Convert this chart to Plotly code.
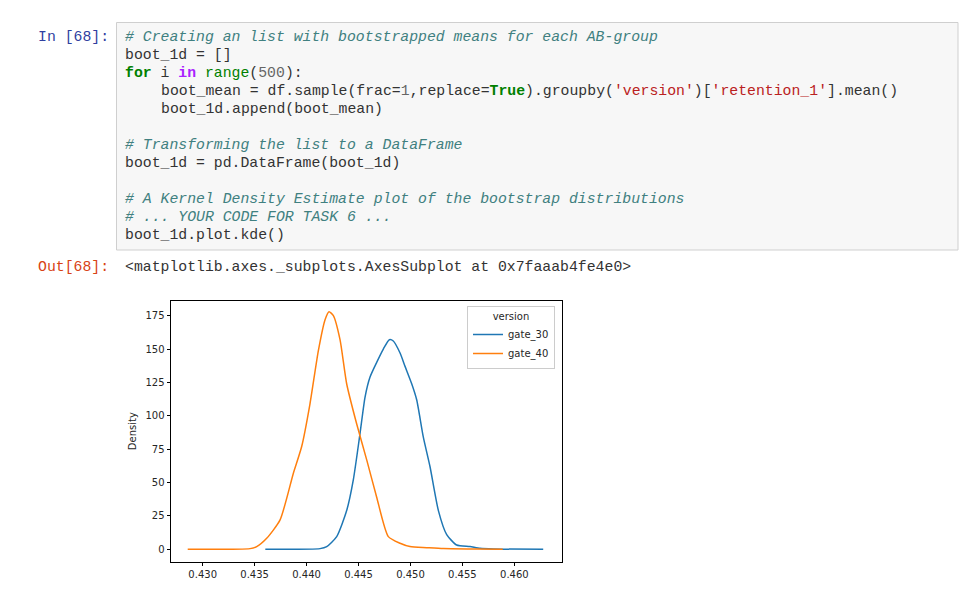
import plotly.graph_objects as go

# bootstrap KDE curves
gate_30_x = [0.43603, 0.4413, 0.44194, 0.4429, 0.44386, 0.4445, 0.44515, 0.44563, 0.44611, 0.44675,
             0.44739, 0.44797, 0.44835, 0.449, 0.44948, 0.45012, 0.4506, 0.45124, 0.45188, 0.45269,
             0.45349, 0.45445, 0.45574, 0.4567, 0.45798, 0.46278]
gate_30_y = [0, 0.5, 2, 9.5, 29, 52, 87, 114, 129, 140,
             150, 157, 156, 147, 137, 124, 112, 84, 62, 29,
             11, 3.2, 2, 0.7, 0.25, 0]

gate_40_x = [0.42856, 0.43456, 0.4352, 0.43616, 0.43745, 0.43873, 0.43953, 0.44033, 0.44114, 0.44178,
             0.44216, 0.44258, 0.44322, 0.44386, 0.44482, 0.44579, 0.44675, 0.44787, 0.449, 0.44996,
             0.45156, 0.45317, 0.4564, 0.45888]
gate_40_y = [0, 0.5, 2, 8.2, 22, 57, 77, 109, 149, 172,
             178, 175, 157, 124, 94, 67, 39, 9.5, 4.5, 2,
             1.2, 0.5, 0.25, 0]

series_names = ['gate_30', 'gate_40']
x_ticks = [0.430, 0.435, 0.440, 0.445, 0.450, 0.455, 0.460]
y_ticks = [0, 25, 50, 75, 100, 125, 150, 175]

# page body has an 8px margin, so the figure is placed at (8, 8)
OFF = 8
W, H = 980 - 2 * OFF, 601 - 2 * OFF

def px(x):
    return (x - OFF) / W

def py(y):
    return 1 - (y - OFF) / H

# notebook cell text (colour spans = syntax highlighting)
COM = '#408080'
code_lines = [
    (37, 0, '<i><span style="color:%s">#\u00a0Creating\u00a0an\u00a0list\u00a0with\u00a0bootstrapped\u00a0means\u00a0for\u00a0each\u00a0AB-group</span></i>' % COM),
    (55, 0, 'boot_1d\u00a0=\u00a0[]'),
    (73, 0, '<b><span style="color:#008000">for</span></b>\u00a0i\u00a0<b><span style="color:#AA22FF">in</span></b>\u00a0'
            '<span style="color:#008000">range</span>(<span style="color:#666666">500</span>):'),
    (91, 4, 'boot_mean\u00a0=\u00a0df.sample(frac=<span style="color:#666666">1</span>,replace=<b><span style="color:#008000">True</span></b>)'
            '.groupby(<span style="color:#BA2121">\'version\'</span>)[<span style="color:#BA2121">\'retention_1\'</span>].mean()'),
    (109, 4, 'boot_1d.append(boot_mean)'),
    (145, 0, '<i><span style="color:%s">#\u00a0Transforming\u00a0the\u00a0list\u00a0to\u00a0a\u00a0DataFrame</span></i>' % COM),
    (163, 0, 'boot_1d\u00a0=\u00a0pd.DataFrame(boot_1d)'),
    (199, 0, '<i><span style="color:%s">#\u00a0A\u00a0Kernel\u00a0Density\u00a0Estimate\u00a0plot\u00a0of\u00a0the\u00a0bootstrap\u00a0distributions</span></i>' % COM),
    (217, 0, '<i><span style="color:%s">#\u00a0...\u00a0YOUR\u00a0CODE\u00a0FOR\u00a0TASK\u00a06\u00a0...</span></i>' % COM),
    (235, 0, 'boot_1d.plot.kde()'),
]

mono = 'Liberation Mono'
fsize = 14.8
char_w = 8.9

fig = go.Figure()

fig.add_trace(go.Scatter(x=gate_30_x, y=gate_30_y, mode='lines', name=series_names[0],
                         line=dict(color='#1f77b4', width=1.5, shape='spline', smoothing=0.6)))
fig.add_trace(go.Scatter(x=gate_40_x, y=gate_40_y, mode='lines', name=series_names[1],
                         line=dict(color='#ff7f0e', width=1.5, shape='spline', smoothing=0.6)))

annotations = []
for yy, indent, txt in code_lines:
    annotations.append(dict(x=px(123 + indent * char_w), y=py(yy), xref='paper', yref='paper',
                            xanchor='left', yanchor='middle', showarrow=False, align='left',
                            text=txt, font=dict(family=mono, size=fsize, color='#333333')))
annotations.append(dict(x=px(111), y=py(37), xref='paper', yref='paper', xanchor='right', yanchor='middle',
                        showarrow=False, text='In\u00a0[68]:', font=dict(family=mono, size=fsize, color='#303F9F')))
annotations.append(dict(x=px(111), y=py(267), xref='paper', yref='paper', xanchor='right', yanchor='middle',
                        showarrow=False, text='Out[68]:', font=dict(family=mono, size=fsize, color='#D84315')))
annotations.append(dict(x=px(123), y=py(267), xref='paper', yref='paper', xanchor='left', yanchor='middle',
                        showarrow=False, text='&lt;matplotlib.axes._subplots.AxesSubplot\u00a0at\u00a00x7faaab4fe4e0&gt;',
                        font=dict(family=mono, size=fsize, color='#333333')))

fig.update_layout(
    width=W, height=H,
    margin=dict(l=0, r=0, t=0, b=0),
    paper_bgcolor='white', plot_bgcolor='white',
    font=dict(family='DejaVu Sans', size=10, color='#262626'),
    annotations=annotations,
    shapes=[dict(type='rect', xref='paper', yref='paper',
                 x0=px(116.5), x1=px(958), y0=py(250), y1=py(22.5),
                 fillcolor='#f7f7f7', line=dict(color='#cfcfcf', width=1), layer='below')],
    xaxis=dict(domain=[px(171), px(561.7)], range=[0.42695, 0.46456],
               tickvals=x_ticks, tickformat='.3f', ticks='outside', ticklen=3.5, tickcolor='black',
               showline=True, linecolor='black', linewidth=1, mirror=True, showgrid=False, zeroline=False),
    yaxis=dict(domain=[py(561.7), py(300.7)], range=[-9.3, 186.2],
               tickvals=y_ticks, ticks='outside', ticklen=3.5, tickcolor='black',
               showline=True, linecolor='black', linewidth=1, mirror=True, showgrid=False, zeroline=False,
               title=dict(text='Density', standoff=6, font=dict(size=10, color='#262626'))),
    legend=dict(x=px(555), y=py(306), xanchor='right', yanchor='top',
                bgcolor='rgba(255,255,255,0.8)', bordercolor='#cccccc', borderwidth=1,
                font=dict(size=10, color='#262626'), tracegroupgap=0,
                title=dict(text='version', side='top center', font=dict(size=10, color='#262626'))),
)

fig.write_html("out.html")
